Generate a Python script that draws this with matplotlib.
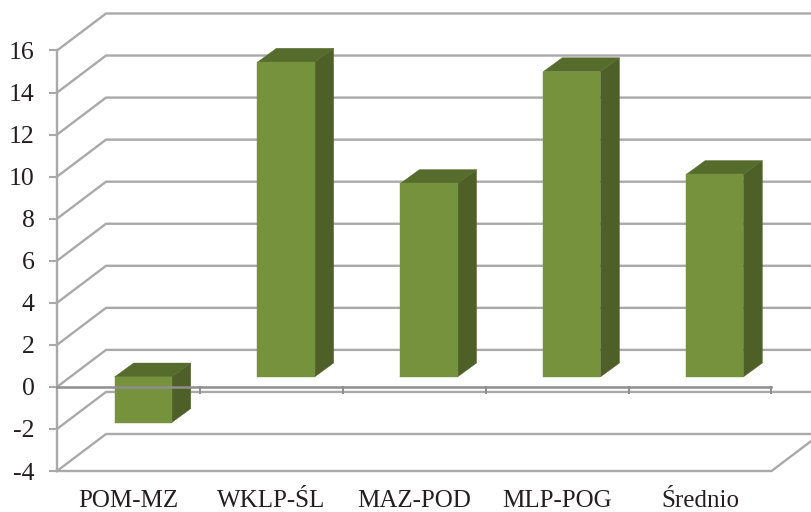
import matplotlib
matplotlib.use("Agg")
import matplotlib.pyplot as plt

plt.rcParams['font.family'] = ['Liberation Serif', 'DejaVu Serif']
plt.rcParams['axes.unicode_minus'] = False

# Dane
kategorie = ["POM-MZ", "WKLP-ŚL", "MAZ-POD", "MLP-POG", "Średnio"]
wartosci = [-2.17, 14.97, 9.2, 14.52, 9.63]
skala_y = [-4, -2, 0, 2, 4, 6, 8, 10, 12, 14, 16]

# Przesuniecie "glebi" wykresu 3D w jednostkach danych
glebia_x = 0.343
glebia_y = 1.76
# Slupki: przednia sciana i glebokosc
slupek_szer = 0.40
przod_x = 0.30
przod_y = 0.27
bok_x = 0.133
bok_y = 0.66

szary = "#a9a9a9"
szary_ciemny = "#8e8e8e"
kolor_przod = "#76923c"
kolor_bok = "#4e5f28"
kolor_gora = "#566c2d"

W, H = 812, 512
fig = plt.figure(figsize=(W / 100, H / 100), dpi=100)
ax = fig.add_axes([57 / W, 1 - 471 / H, 714.5 / W, 420.5 / H])
ax.set_xlim(0, len(kategorie))
ax.set_ylim(skala_y[0], skala_y[-1])
ax.patch.set_visible(False)

# Siatka: sciana boczna i tylna
xmax = len(kategorie)
for v in skala_y:
    ax.plot([0, glebia_x, xmax + glebia_x], [v, v + glebia_y, v + glebia_y],
            color=szary, lw=1.7, clip_on=False, zorder=1, solid_joinstyle="miter")

# Podloga
dol = skala_y[0]
ax.plot([0, xmax, xmax + glebia_x], [dol, dol, dol + glebia_y],
        color=szary, lw=1.7, clip_on=False, zorder=1)

# Slupki
for i, v in enumerate(wartosci):
    x0 = i + 0.5 - slupek_szer / 2 + przod_x * glebia_x
    x1 = x0 + slupek_szer
    y0 = przod_y * glebia_y
    y1 = v + y0
    gora = max(y0, y1)
    ax.fill([x1, x1 + bok_x, x1 + bok_x, x1],
            [y0, y0 + bok_y, y1 + bok_y, y1],
            color=kolor_bok, lw=0.3, clip_on=False, zorder=3)
    ax.fill([x0, x1, x1 + bok_x, x0 + bok_x],
            [gora, gora, gora + bok_y, gora + bok_y],
            color=kolor_gora, lw=0.3, clip_on=False, zorder=3)
    ax.fill([x0, x1, x1, x0], [y0, y0, y1, y1],
            color=kolor_przod, lw=0.3, clip_on=False, zorder=3)

# Os zero z podzialkami
ax.plot([0, xmax], [0, 0], color=szary_ciemny, lw=1.8, zorder=4, clip_on=False)
for i in range(1, xmax + 1):
    ax.plot([i, i], [-0.28, 0], color=szary_ciemny, lw=1.4, zorder=4, clip_on=False)

# Osie
for s in ["top", "right", "bottom"]:
    ax.spines[s].set_visible(False)
ax.spines["left"].set_color(szary)
ax.spines["left"].set_linewidth(1.7)
ax.set_yticks(skala_y)
ax.tick_params(axis="y", length=6, width=1.5, color=szary, labelsize=18.5,
               labelcolor="#231f20", pad=10)
ax.set_xticks([i + 0.5 for i in range(xmax)])
ax.set_xticklabels(kategorie)
ax.tick_params(axis="x", length=0, labelsize=18, labelcolor="#231f20", pad=14)

fig.savefig("out.png", dpi=100)
plt.close(fig)
